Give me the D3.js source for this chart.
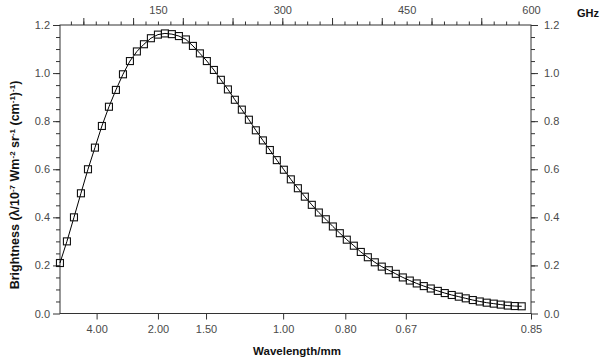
<!DOCTYPE html>
<html>
<head>
<meta charset="utf-8">
<script src="https://cdn.jsdelivr.net/npm/d3@7"></script>
<style>
  html, body { margin: 0; padding: 0; background: #fff; }
  svg { display: block; font-family: "Liberation Sans", Arial, sans-serif; }
  .tick text { fill: #4a4a4a; font-size: 11px; }
  .tick line { stroke: #333; }
</style>
</head>
<body>
<svg id="chart" width="600" height="359"></svg>
<script>
// ---- data ----
const frequencyGHz = [31.8, 40.2, 48.7, 57.1, 65.6, 74.0, 82.4, 90.9, 99.3, 107.8,
  116.2, 124.6, 133.1, 141.5, 150.0, 158.4, 166.8, 175.3, 183.7, 192.2,
  200.6, 209.0, 217.5, 225.9, 234.4, 242.8, 251.2, 259.7, 268.1, 276.6,
  285.0, 293.4, 301.9, 310.3, 318.8, 327.2, 335.6, 344.1, 352.5, 361.0,
  369.4, 377.8, 386.3, 394.7, 403.2, 411.6, 420.0, 428.5, 436.9, 445.4,
  453.8, 462.2, 470.7, 479.1, 487.6, 496.0, 504.4, 512.9, 521.3, 529.8,
  538.2, 546.6, 555.1, 563.5, 572.0, 580.4, 588.8];
const brightness = [0.21, 0.30, 0.40, 0.50, 0.60, 0.69, 0.78, 0.86, 0.93, 0.995,
  1.05, 1.09, 1.12, 1.145, 1.16, 1.165, 1.162, 1.154, 1.14, 1.113,
  1.082, 1.05, 1.013, 0.972, 0.932, 0.889, 0.848, 0.806, 0.762, 0.72,
  0.68, 0.638, 0.598, 0.558, 0.521, 0.486, 0.452, 0.42, 0.392, 0.362,
  0.334, 0.307, 0.282, 0.256, 0.234, 0.213, 0.195, 0.18, 0.165, 0.15,
  0.137, 0.125, 0.114, 0.104, 0.094, 0.085, 0.077, 0.07, 0.063, 0.056,
  0.05, 0.045, 0.041, 0.037, 0.033, 0.031, 0.03];

const topLabelGHz = [150, 300, 450, 600];
const topMajorGHz = [60, 120, 180, 240, 300, 360, 420, 480, 540];
const topMinorGHz = d3.range(45, 600, 15);
const bottomTickGHz = [76, 150, 208, 301, 376, 449, 600];
const bottomTickLabels = ["4.00", "2.00", "1.50", "1.00", "0.80", "0.67", "0.85"];
const yMajor = [0, 0.2, 0.4, 0.6, 0.8, 1.0, 1.2];
const yMinor = d3.range(0.05, 1.2, 0.05);

// ---- layout ----
const pLeft = 60, pRight = 531, pTop = 25, pBottom = 313.5;
const svg = d3.select("#chart");

const x = d3.scaleLinear().domain([0, 600]).range([33.6, pRight]);
const y = d3.scaleLinear().domain([0, 1.2]).range([pBottom, pTop]);

function clean(g) { g.select(".domain").remove(); }

// top axis
svg.append("g").attr("transform", `translate(0,${pTop})`)
  .call(d3.axisTop(x).tickValues(topMinorGHz).tickSize(3.5).tickFormat("")).call(clean);
svg.append("g").attr("transform", `translate(0,${pTop})`)
  .call(d3.axisTop(x).tickValues(topMajorGHz).tickSize(7).tickFormat("")).call(clean);
svg.append("g").attr("transform", `translate(0,${pTop})`)
  .call(d3.axisTop(x).tickValues(topLabelGHz).tickSize(0).tickPadding(11).tickFormat(d3.format("d"))).call(clean);

// bottom axis
svg.append("g").attr("transform", `translate(0,${pBottom})`)
  .call(d3.axisBottom(x).tickValues(bottomTickGHz).tickSize(6).tickPadding(6)
    .tickFormat((d, i) => bottomTickLabels[i])).call(clean);

// left axis
svg.append("g").attr("transform", `translate(${pLeft},0)`)
  .call(d3.axisLeft(y).tickValues(yMinor).tickSize(4).tickFormat("")).call(clean);
svg.append("g").attr("transform", `translate(${pLeft},0)`)
  .call(d3.axisLeft(y).tickValues(yMajor).tickSize(7).tickPadding(3).tickFormat(d3.format(".1f"))).call(clean);

// right axis
svg.append("g").attr("transform", `translate(${pRight},0)`)
  .call(d3.axisRight(y).tickValues(yMinor).tickSize(4).tickFormat("")).call(clean);
svg.append("g").attr("transform", `translate(${pRight},0)`)
  .call(d3.axisRight(y).tickValues(yMajor).tickSize(7).tickPadding(6).tickFormat(d3.format(".1f"))).call(clean);

// frame
svg.append("rect").attr("x", pLeft).attr("y", pTop)
  .attr("width", pRight - pLeft).attr("height", pBottom - pTop)
  .attr("fill", "none").attr("stroke", "#333").attr("stroke-width", 1);

// data line
const pts = frequencyGHz.map((f, i) => [f, brightness[i]]);
svg.append("path").datum(pts)
  .attr("fill", "none").attr("stroke", "#000").attr("stroke-width", 1)
  .attr("d", d3.line().x(d => x(d[0])).y(d => y(d[1])));

// markers
const s = 7;
svg.append("g").selectAll("rect").data(pts).join("rect")
  .attr("x", d => x(d[0]) - s / 2).attr("y", d => y(d[1]) - s / 2)
  .attr("width", s).attr("height", s)
  .attr("fill", "none").attr("stroke", "#111").attr("stroke-width", 1.1);

// titles
svg.append("text").attr("x", 297).attr("y", 355).attr("text-anchor", "middle")
  .attr("font-size", 11.5).attr("font-weight", "bold").attr("fill", "#111")
  .text("Wavelength/mm");
svg.append("text").attr("x", 577).attr("y", 17)
  .attr("font-size", 11).attr("font-weight", "bold").attr("fill", "#111")
  .text("GHz");

const yt = svg.append("text")
  .attr("transform", "translate(19,185) rotate(-90)")
  .attr("text-anchor", "middle").attr("font-size", 12.5).attr("font-weight", "bold").attr("fill", "#111");
const sup = (t) => yt.append("tspan").attr("dy", -4.5).attr("font-size", 8).text(t);
const base = (t) => yt.append("tspan").attr("dy", 4.5).text(t);
yt.append("tspan").text("Brightness (λ/10");
sup("-7"); base(" Wm"); sup("-2"); base(" sr"); sup("-1"); base(" (cm"); sup("-1"); base(")"); sup("-1"); base(")");
</script>
</body>
</html>
